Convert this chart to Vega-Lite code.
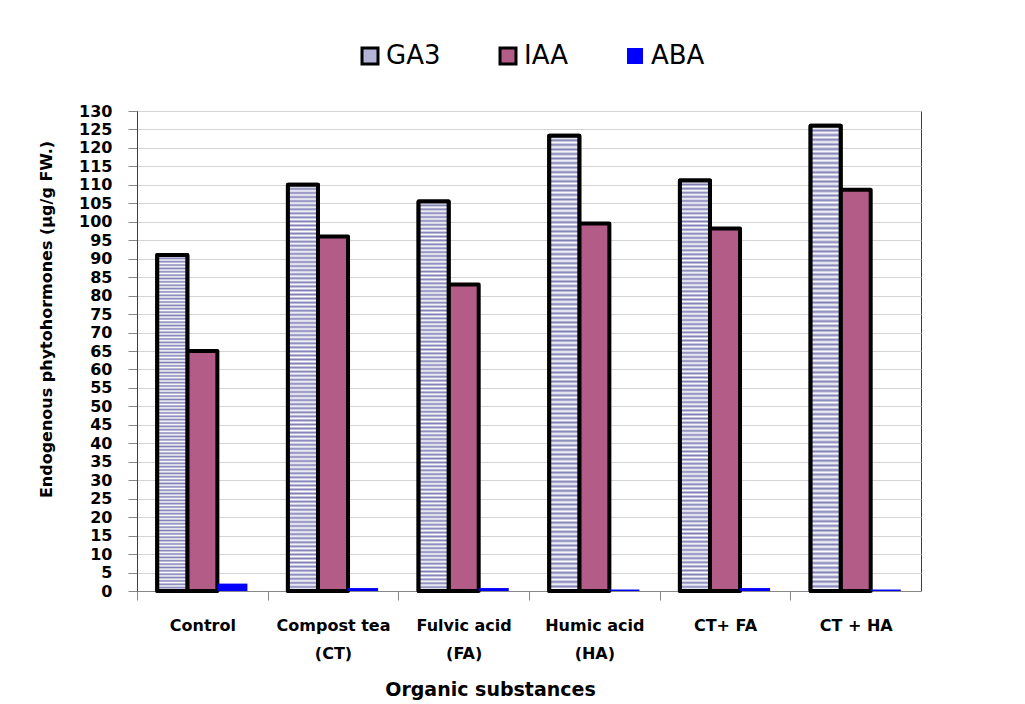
{
  "$schema": "https://vega.github.io/schema/vega-lite/v6.json",
  "autosize": "none",
  "width": 784,
  "height": 480,
  "padding": {"left": 137, "top": 111, "right": 104, "bottom": 113},
  "background": "white",
  "data": {
    "values": [
      {"substance": "Control", "hormone": "GA3", "value": 91},
      {"substance": "Control", "hormone": "IAA", "value": 65},
      {"substance": "Control", "hormone": "ABA", "value": 2.0},
      {"substance": "Compost tea|(CT)", "hormone": "GA3", "value": 110},
      {"substance": "Compost tea|(CT)", "hormone": "IAA", "value": 96},
      {"substance": "Compost tea|(CT)", "hormone": "ABA", "value": 0.8},
      {"substance": "Fulvic acid|(FA)", "hormone": "GA3", "value": 105.5},
      {"substance": "Fulvic acid|(FA)", "hormone": "IAA", "value": 83},
      {"substance": "Fulvic acid|(FA)", "hormone": "ABA", "value": 0.8},
      {"substance": "Humic acid|(HA)", "hormone": "GA3", "value": 123.3},
      {"substance": "Humic acid|(HA)", "hormone": "IAA", "value": 99.5},
      {"substance": "Humic acid|(HA)", "hormone": "ABA", "value": 0.4},
      {"substance": "CT+ FA", "hormone": "GA3", "value": 111.2},
      {"substance": "CT+ FA", "hormone": "IAA", "value": 98.2},
      {"substance": "CT+ FA", "hormone": "ABA", "value": 0.8},
      {"substance": "CT + HA", "hormone": "GA3", "value": 126},
      {"substance": "CT + HA", "hormone": "IAA", "value": 108.7},
      {"substance": "CT + HA", "hormone": "ABA", "value": 0.4}
    ]
  },
  "encoding": {
    "x": {
      "field": "substance",
      "type": "nominal",
      "sort": null,
      "scale": {"paddingInner": 0.31, "paddingOuter": 0.155},
      "axis": {
        "title": "Organic substances",
        "labelAngle": 0,
        "labelExpr": "split(datum.label, '|')",
        "labelFont": "DejaVu Sans",
        "labelFontSize": 16,
        "labelFontWeight": "bold",
        "labelColor": "black",
        "labelLineHeight": 28,
        "labelPadding": 17,
        "labelBaseline": "top",
        "tickOffset": -65.33,
        "labelOffset": 65.33,
        "tickSize": 9,
        "tickColor": "#888888",
        "domainColor": "#888888",
        "titleFont": "DejaVu Sans",
        "titleFontSize": 19,
        "titleFontWeight": "bold",
        "titleColor": "black",
        "titlePadding": 19,
        "titleX": 353
      }
    },
    "xOffset": {
      "field": "hormone",
      "type": "nominal",
      "sort": ["GA3", "IAA", "ABA"],
      "scale": {"domain": ["GA3", "IAA", "ABA"], "paddingInner": 0, "paddingOuter": 0}
    },
    "y": {
      "field": "value",
      "type": "quantitative",
      "scale": {"domain": [0, 130], "nice": false},
      "axis": {
        "title": "Endogenous phytohormones (µg/g FW.)",
        "values": [0, 5, 10, 15, 20, 25, 30, 35, 40, 45, 50, 55, 60, 65, 70, 75, 80, 85, 90, 95, 100, 105, 110, 115, 120, 125, 130],
        "labelFont": "DejaVu Sans",
        "labelFontSize": 16,
        "labelFontWeight": "bold",
        "labelColor": "black",
        "labelPadding": 16,
        "tickSize": 9,
        "tickColor": "#888888",
        "domainColor": "#404040",
        "gridColor": "#d4d4d4",
        "titleFont": "DejaVu Sans",
        "titleFontSize": 16,
        "titleFontWeight": "bold",
        "titleColor": "black",
        "titlePadding": 24,
        "titleY": 208
      }
    }
  },
  "layer": [
    {
      "mark": {"type": "bar", "strokeWidth": 4, "strokeJoin": "round"},
      "encoding": {
        "fill": {
          "field": "hormone",
          "type": "nominal",
          "scale": {"domain": ["GA3", "IAA", "ABA"], "range": ["#b4b4d6", "#b35c88", "#0000ff"]},
          "legend": {"title": null}
        },
        "stroke": {
          "field": "hormone",
          "type": "nominal",
          "scale": {"domain": ["GA3", "IAA", "ABA"], "range": ["#000000", "#000000", "transparent"]},
          "legend": {"title": null}
        }
      }
    },
    {
      "transform": [{"filter": "datum.hormone === 'GA3'"}],
      "mark": {
        "type": "bar",
        "stroke": "#000000",
        "strokeWidth": 4,
        "strokeJoin": "round",
        "fill": {
          "gradient": "linear", "x1": 0, "y1": 0, "x2": 0, "y2": 1,
          "stops": [
            {"offset": 0, "color": "#7f7fb6"}, {"offset": 0.005, "color": "#ffffff"},
            {"offset": 0.01, "color": "#7f7fb6"}, {"offset": 0.015, "color": "#ffffff"},
            {"offset": 0.02, "color": "#7f7fb6"}, {"offset": 0.025, "color": "#ffffff"},
            {"offset": 0.03, "color": "#7f7fb6"}, {"offset": 0.035, "color": "#ffffff"},
            {"offset": 0.04, "color": "#7f7fb6"}, {"offset": 0.045, "color": "#ffffff"},
            {"offset": 0.05, "color": "#7f7fb6"}, {"offset": 0.055, "color": "#ffffff"},
            {"offset": 0.06, "color": "#7f7fb6"}, {"offset": 0.065, "color": "#ffffff"},
            {"offset": 0.07, "color": "#7f7fb6"}, {"offset": 0.075, "color": "#ffffff"},
            {"offset": 0.08, "color": "#7f7fb6"}, {"offset": 0.085, "color": "#ffffff"},
            {"offset": 0.09, "color": "#7f7fb6"}, {"offset": 0.095, "color": "#ffffff"},
            {"offset": 0.1, "color": "#7f7fb6"}, {"offset": 0.105, "color": "#ffffff"},
            {"offset": 0.11, "color": "#7f7fb6"}, {"offset": 0.115, "color": "#ffffff"},
            {"offset": 0.12, "color": "#7f7fb6"}, {"offset": 0.125, "color": "#ffffff"},
            {"offset": 0.13, "color": "#7f7fb6"}, {"offset": 0.135, "color": "#ffffff"},
            {"offset": 0.14, "color": "#7f7fb6"}, {"offset": 0.145, "color": "#ffffff"},
            {"offset": 0.15, "color": "#7f7fb6"}, {"offset": 0.155, "color": "#ffffff"},
            {"offset": 0.16, "color": "#7f7fb6"}, {"offset": 0.165, "color": "#ffffff"},
            {"offset": 0.17, "color": "#7f7fb6"}, {"offset": 0.175, "color": "#ffffff"},
            {"offset": 0.18, "color": "#7f7fb6"}, {"offset": 0.185, "color": "#ffffff"},
            {"offset": 0.19, "color": "#7f7fb6"}, {"offset": 0.195, "color": "#ffffff"},
            {"offset": 0.2, "color": "#7f7fb6"}, {"offset": 0.205, "color": "#ffffff"},
            {"offset": 0.21, "color": "#7f7fb6"}, {"offset": 0.215, "color": "#ffffff"},
            {"offset": 0.22, "color": "#7f7fb6"}, {"offset": 0.225, "color": "#ffffff"},
            {"offset": 0.23, "color": "#7f7fb6"}, {"offset": 0.235, "color": "#ffffff"},
            {"offset": 0.24, "color": "#7f7fb6"}, {"offset": 0.245, "color": "#ffffff"},
            {"offset": 0.25, "color": "#7f7fb6"}, {"offset": 0.255, "color": "#ffffff"},
            {"offset": 0.26, "color": "#7f7fb6"}, {"offset": 0.265, "color": "#ffffff"},
            {"offset": 0.27, "color": "#7f7fb6"}, {"offset": 0.275, "color": "#ffffff"},
            {"offset": 0.28, "color": "#7f7fb6"}, {"offset": 0.285, "color": "#ffffff"},
            {"offset": 0.29, "color": "#7f7fb6"}, {"offset": 0.295, "color": "#ffffff"},
            {"offset": 0.3, "color": "#7f7fb6"}, {"offset": 0.305, "color": "#ffffff"},
            {"offset": 0.31, "color": "#7f7fb6"}, {"offset": 0.315, "color": "#ffffff"},
            {"offset": 0.32, "color": "#7f7fb6"}, {"offset": 0.325, "color": "#ffffff"},
            {"offset": 0.33, "color": "#7f7fb6"}, {"offset": 0.335, "color": "#ffffff"},
            {"offset": 0.34, "color": "#7f7fb6"}, {"offset": 0.345, "color": "#ffffff"},
            {"offset": 0.35, "color": "#7f7fb6"}, {"offset": 0.355, "color": "#ffffff"},
            {"offset": 0.36, "color": "#7f7fb6"}, {"offset": 0.365, "color": "#ffffff"},
            {"offset": 0.37, "color": "#7f7fb6"}, {"offset": 0.375, "color": "#ffffff"},
            {"offset": 0.38, "color": "#7f7fb6"}, {"offset": 0.385, "color": "#ffffff"},
            {"offset": 0.39, "color": "#7f7fb6"}, {"offset": 0.395, "color": "#ffffff"},
            {"offset": 0.4, "color": "#7f7fb6"}, {"offset": 0.405, "color": "#ffffff"},
            {"offset": 0.41, "color": "#7f7fb6"}, {"offset": 0.415, "color": "#ffffff"},
            {"offset": 0.42, "color": "#7f7fb6"}, {"offset": 0.425, "color": "#ffffff"},
            {"offset": 0.43, "color": "#7f7fb6"}, {"offset": 0.435, "color": "#ffffff"},
            {"offset": 0.44, "color": "#7f7fb6"}, {"offset": 0.445, "color": "#ffffff"},
            {"offset": 0.45, "color": "#7f7fb6"}, {"offset": 0.455, "color": "#ffffff"},
            {"offset": 0.46, "color": "#7f7fb6"}, {"offset": 0.465, "color": "#ffffff"},
            {"offset": 0.47, "color": "#7f7fb6"}, {"offset": 0.475, "color": "#ffffff"},
            {"offset": 0.48, "color": "#7f7fb6"}, {"offset": 0.485, "color": "#ffffff"},
            {"offset": 0.49, "color": "#7f7fb6"}, {"offset": 0.495, "color": "#ffffff"},
            {"offset": 0.5, "color": "#7f7fb6"}, {"offset": 0.505, "color": "#ffffff"},
            {"offset": 0.51, "color": "#7f7fb6"}, {"offset": 0.515, "color": "#ffffff"},
            {"offset": 0.52, "color": "#7f7fb6"}, {"offset": 0.525, "color": "#ffffff"},
            {"offset": 0.53, "color": "#7f7fb6"}, {"offset": 0.535, "color": "#ffffff"},
            {"offset": 0.54, "color": "#7f7fb6"}, {"offset": 0.545, "color": "#ffffff"},
            {"offset": 0.55, "color": "#7f7fb6"}, {"offset": 0.555, "color": "#ffffff"},
            {"offset": 0.56, "color": "#7f7fb6"}, {"offset": 0.565, "color": "#ffffff"},
            {"offset": 0.57, "color": "#7f7fb6"}, {"offset": 0.575, "color": "#ffffff"},
            {"offset": 0.58, "color": "#7f7fb6"}, {"offset": 0.585, "color": "#ffffff"},
            {"offset": 0.59, "color": "#7f7fb6"}, {"offset": 0.595, "color": "#ffffff"},
            {"offset": 0.6, "color": "#7f7fb6"}, {"offset": 0.605, "color": "#ffffff"},
            {"offset": 0.61, "color": "#7f7fb6"}, {"offset": 0.615, "color": "#ffffff"},
            {"offset": 0.62, "color": "#7f7fb6"}, {"offset": 0.625, "color": "#ffffff"},
            {"offset": 0.63, "color": "#7f7fb6"}, {"offset": 0.635, "color": "#ffffff"},
            {"offset": 0.64, "color": "#7f7fb6"}, {"offset": 0.645, "color": "#ffffff"},
            {"offset": 0.65, "color": "#7f7fb6"}, {"offset": 0.655, "color": "#ffffff"},
            {"offset": 0.66, "color": "#7f7fb6"}, {"offset": 0.665, "color": "#ffffff"},
            {"offset": 0.67, "color": "#7f7fb6"}, {"offset": 0.675, "color": "#ffffff"},
            {"offset": 0.68, "color": "#7f7fb6"}, {"offset": 0.685, "color": "#ffffff"},
            {"offset": 0.69, "color": "#7f7fb6"}, {"offset": 0.695, "color": "#ffffff"},
            {"offset": 0.7, "color": "#7f7fb6"}, {"offset": 0.705, "color": "#ffffff"},
            {"offset": 0.71, "color": "#7f7fb6"}, {"offset": 0.715, "color": "#ffffff"},
            {"offset": 0.72, "color": "#7f7fb6"}, {"offset": 0.725, "color": "#ffffff"},
            {"offset": 0.73, "color": "#7f7fb6"}, {"offset": 0.735, "color": "#ffffff"},
            {"offset": 0.74, "color": "#7f7fb6"}, {"offset": 0.745, "color": "#ffffff"},
            {"offset": 0.75, "color": "#7f7fb6"}, {"offset": 0.755, "color": "#ffffff"},
            {"offset": 0.76, "color": "#7f7fb6"}, {"offset": 0.765, "color": "#ffffff"},
            {"offset": 0.77, "color": "#7f7fb6"}, {"offset": 0.775, "color": "#ffffff"},
            {"offset": 0.78, "color": "#7f7fb6"}, {"offset": 0.785, "color": "#ffffff"},
            {"offset": 0.79, "color": "#7f7fb6"}, {"offset": 0.795, "color": "#ffffff"},
            {"offset": 0.8, "color": "#7f7fb6"}, {"offset": 0.805, "color": "#ffffff"},
            {"offset": 0.81, "color": "#7f7fb6"}, {"offset": 0.815, "color": "#ffffff"},
            {"offset": 0.82, "color": "#7f7fb6"}, {"offset": 0.825, "color": "#ffffff"},
            {"offset": 0.83, "color": "#7f7fb6"}, {"offset": 0.835, "color": "#ffffff"},
            {"offset": 0.84, "color": "#7f7fb6"}, {"offset": 0.845, "color": "#ffffff"},
            {"offset": 0.85, "color": "#7f7fb6"}, {"offset": 0.855, "color": "#ffffff"},
            {"offset": 0.86, "color": "#7f7fb6"}, {"offset": 0.865, "color": "#ffffff"},
            {"offset": 0.87, "color": "#7f7fb6"}, {"offset": 0.875, "color": "#ffffff"},
            {"offset": 0.88, "color": "#7f7fb6"}, {"offset": 0.885, "color": "#ffffff"},
            {"offset": 0.89, "color": "#7f7fb6"}, {"offset": 0.895, "color": "#ffffff"},
            {"offset": 0.9, "color": "#7f7fb6"}, {"offset": 0.905, "color": "#ffffff"},
            {"offset": 0.91, "color": "#7f7fb6"}, {"offset": 0.915, "color": "#ffffff"},
            {"offset": 0.92, "color": "#7f7fb6"}, {"offset": 0.925, "color": "#ffffff"},
            {"offset": 0.93, "color": "#7f7fb6"}, {"offset": 0.935, "color": "#ffffff"},
            {"offset": 0.94, "color": "#7f7fb6"}, {"offset": 0.945, "color": "#ffffff"},
            {"offset": 0.95, "color": "#7f7fb6"}, {"offset": 0.955, "color": "#ffffff"},
            {"offset": 0.96, "color": "#7f7fb6"}, {"offset": 0.965, "color": "#ffffff"},
            {"offset": 0.97, "color": "#7f7fb6"}, {"offset": 0.975, "color": "#ffffff"},
            {"offset": 0.98, "color": "#7f7fb6"}, {"offset": 0.985, "color": "#ffffff"},
            {"offset": 0.99, "color": "#7f7fb6"}, {"offset": 0.995, "color": "#ffffff"},
            {"offset": 1, "color": "#7f7fb6"}
          ]
        }
      }
    }
  ],
  "config": {
    "view": {"stroke": "#404040", "strokeWidth": 1},
    "legend": {
      "orient": "none",
      "legendX": 220,
      "legendY": -68,
      "direction": "horizontal",
      "symbolType": "square",
      "symbolSize": 256,
      "symbolStrokeWidth": 3,
      "symbolOpacity": 1,
      "labelFont": "DejaVu Sans",
      "labelFontSize": 26,
      "labelColor": "black",
      "labelOffset": 3,
      "columnPadding": 53
    }
  }
}
